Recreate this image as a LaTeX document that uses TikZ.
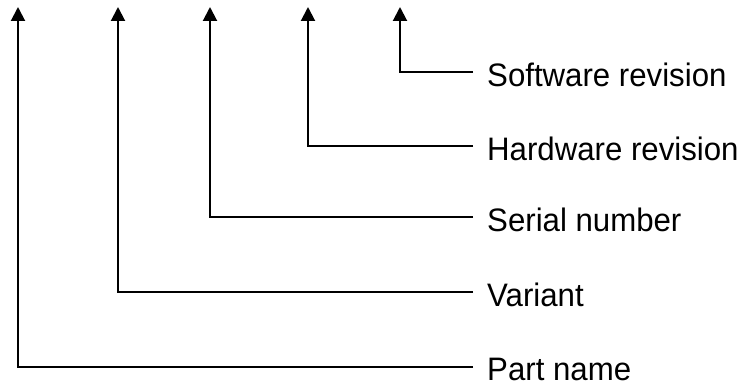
\documentclass[tikz,border=0pt]{standalone}
\usepackage{fontspec}
\setmainfont{Liberation Sans}[FakeStretch=0.96]
\usetikzlibrary{arrows.meta}
\begin{document}
\begin{tikzpicture}[x=1pt,y=-1pt,
  lbl/.style={anchor=base west,inner xsep=14pt,inner ysep=0pt,font=\fontsize{32.5}{36}\selectfont},
  conn/.style={line width=2pt,-{Triangle[width=14pt,length=14pt]}}]
\useasboundingbox (0,0) rectangle (748,387);
\node[lbl] (sw) at (473,87) {Software revision};
\node[lbl] (hw) at (473,161) {Hardware revision};
\node[lbl] (sn) at (473,232) {Serial number};
\node[lbl] (va) at (473,307) {Variant};
\node[lbl] (pn) at (473,381) {Part name};
\coordinate (t5) at (400,7);
\coordinate (t4) at (308,7);
\coordinate (t3) at (210,7);
\coordinate (t2) at (118,7);
\coordinate (t1) at (18,7);
\draw[conn] (sw.west |- 0,72) -| (t5);
\draw[conn] (hw.west |- 0,146) -| (t4);
\draw[conn] (sn.west |- 0,217) -| (t3);
\draw[conn] (va.west |- 0,292) -| (t2);
\draw[conn] (pn.west |- 0,367) -| (t1);
\end{tikzpicture}
\end{document}
